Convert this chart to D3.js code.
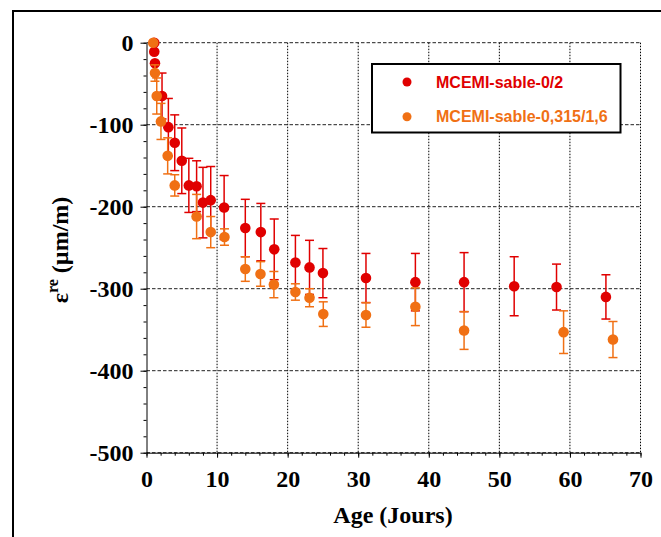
<!DOCTYPE html>
<html>
<head>
<meta charset="utf-8">
<script src="https://cdn.jsdelivr.net/npm/d3@7"></script>
<style>
  body { margin: 0; background: #fff; }
  svg { display: block; }
  .tick text { font-family: "Liberation Serif", "Times New Roman", serif; font-weight: bold; font-size: 24px; }
</style>
</head>
<body>
<div id="my_dataviz"></div>
<script>
// MCEMI-sable-0/2 (rouge)
var redDays   = [1.1, 1.1, 1.2, 2.2, 3.1, 4, 5, 6, 7.1, 8, 9.1, 11, 14, 16.2, 18.1, 21.1, 23.1, 25, 31.1, 38.1, 45, 52.1, 58.1, 65.1];
var redValues = [0, -11, -25, -65, -103, -122, -144, -174, -175, -195, -192, -201, -226, -231, -252, -268, -274, -281, -287, -292, -292, -297, -298, -310];
var redErrors = [0, 0, 0, 28, 35, 34, 40, 33, 31, 43, 41, 39, 35, 35, 37, 33, 33, 30, 30, 35, 36, 36, 28, 27];

// MCEMI-sable-0,315/1,6 (orange)
var orangeDays   = [0.95, 1.2, 1.45, 2.05, 3, 4, 7.1, 9.1, 11.05, 14, 16.15, 18.05, 21.1, 23.1, 25.05, 31.1, 38.1, 45, 59.1, 66.1];
var orangeValues = [0, -37, -65, -96, -138, -174, -212, -231, -237, -276, -282, -295, -304, -311, -331, -332, -322, -351, -353, -362];
var orangeErrors = [0, 10, 22, 22, 22, 13, 27, 19, 10, 15, 15, 16, 10, 11, 15, 15, 23, 23, 26, 22];

var seriesNames = ["MCEMI-sable-0/2", "MCEMI-sable-0,315/1,6"];
var xTicks = [0, 10, 20, 30, 40, 50, 60, 70];
var yTicks = [0, -100, -200, -300, -400, -500];

var W = 661, H = 537;
var margin = { top: 42.7, right: 20.5, bottom: 84.3, left: 146.5 },
    width = W - margin.left - margin.right,
    height = H - margin.top - margin.bottom;

var colors = ["#e00000", "#f07014"];
var serif = "'Liberation Serif', 'Times New Roman', serif";
var sans = "'Liberation Sans', Arial, sans-serif";

var svg = d3.select("#my_dataviz")
  .append("svg")
  .attr("width", W)
  .attr("height", H);

// cadre extérieur
svg.append("path")
  .attr("d", "M13," + H + "V11H" + W)
  .attr("fill", "none")
  .attr("stroke", "#000")
  .attr("stroke-width", 2);

var g = svg.append("g")
  .attr("transform", "translate(" + margin.left + "," + margin.top + ")");

var x = d3.scaleLinear().domain([0, 70]).range([0, width]);
var y = d3.scaleLinear().domain([-500, 0]).range([height, 0]);

// grille
g.append("g").selectAll("line")
  .data(xTicks.filter(function (d) { return d > 0; }))
  .enter().append("line")
  .attr("x1", function (d) { return x(d); })
  .attr("x2", function (d) { return x(d); })
  .attr("y1", 0).attr("y2", height)
  .attr("stroke", "#000")
  .attr("stroke-width", 1)
  .attr("stroke-dasharray", "1.5,1.5");

g.append("g").selectAll("line")
  .data(yTicks)
  .enter().append("line")
  .attr("x1", 0).attr("x2", width)
  .attr("y1", function (d) { return y(d); })
  .attr("y2", function (d) { return y(d); })
  .attr("stroke", "#222")
  .attr("stroke-width", 1)
  .attr("stroke-dasharray", "3.5,2");

// axe Y
var yMinor = d3.range(0, -501, -20);
g.append("g")
  .call(d3.axisLeft(y).tickValues(yMinor).tickSize(3).tickSizeOuter(0).tickFormat(""))
  .call(function (s) { s.select(".domain").remove(); });
var yAxis = g.append("g")
  .call(d3.axisLeft(y).tickValues(yTicks).tickSize(6).tickSizeOuter(0).tickPadding(7)
    .tickFormat(function (d) { return String(d); }))
  .attr("font-family", serif)
  .attr("font-size", 24)
  .attr("font-weight", "bold");
yAxis.selectAll("text")
  .attr("fill", "#000")
  .attr("dy", "0.34em");

// axe X
var xMinor = d3.range(0, 71, 2);
g.append("g")
  .attr("transform", "translate(0," + height + ")")
  .call(d3.axisBottom(x).tickValues(xMinor).tickSize(3).tickSizeOuter(0).tickFormat(""))
  .call(function (s) { s.select(".domain").remove(); });
var xAxis = g.append("g")
  .attr("transform", "translate(0," + height + ")")
  .call(d3.axisBottom(x).tickValues(xTicks).tickSize(5).tickSizeOuter(0).tickPadding(12))
  .attr("font-family", serif)
  .attr("font-size", 24)
  .attr("font-weight", "bold");
xAxis.selectAll("text").attr("fill", "#000");

// titres des axes
svg.append("text")
  .attr("x", 393)
  .attr("y", 523)
  .attr("text-anchor", "middle")
  .style("font-family", serif)
  .style("font-weight", "bold")
  .style("font-size", "24px")
  .text("Age (Jours)");

var yt = svg.append("text")
  .attr("transform", "translate(68,250) rotate(-90)")
  .attr("text-anchor", "middle")
  .style("font-family", serif)
  .style("font-weight", "bold")
  .style("font-size", "24px");
yt.append("tspan").text("ε");
yt.append("tspan").attr("dy", -10).style("font-size", "16px").text("re");
yt.append("tspan").attr("dy", 10).text(" (µm/m)");

// séries
function drawSeries(days, values, errors, color) {
  var data = days.map(function (d, i) { return { day: d, v: values[i], e: errors[i] }; });
  var withErr = data.filter(function (d) { return d.e > 0; });
  var s = g.append("g");
  s.selectAll(".bar").data(withErr).enter().append("line")
    .attr("x1", function (d) { return x(d.day); })
    .attr("x2", function (d) { return x(d.day); })
    .attr("y1", function (d) { return y(d.v + d.e); })
    .attr("y2", function (d) { return y(d.v - d.e); })
    .attr("stroke", color).attr("stroke-width", 1.5);
  [1, -1].forEach(function (sign) {
    s.selectAll(".cap").data(withErr).enter().append("line")
      .attr("x1", function (d) { return x(d.day) - 4.5; })
      .attr("x2", function (d) { return x(d.day) + 4.5; })
      .attr("y1", function (d) { return y(d.v + sign * d.e); })
      .attr("y2", function (d) { return y(d.v + sign * d.e); })
      .attr("stroke", color).attr("stroke-width", 1.5);
  });
  s.selectAll("circle").data(data).enter().append("circle")
    .attr("cx", function (d) { return x(d.day); })
    .attr("cy", function (d) { return y(d.v); })
    .attr("r", 5.3)
    .attr("fill", color);
}
drawSeries(redDays, redValues, redErrors, colors[0]);
drawSeries(orangeDays, orangeValues, orangeErrors, colors[1]);

// légende
var leg = svg.append("g");
leg.append("rect")
  .attr("x", 372).attr("y", 64)
  .attr("width", 248.5).attr("height", 68.5)
  .attr("fill", "#fff")
  .attr("stroke", "#000")
  .attr("stroke-width", 2);
seriesNames.forEach(function (name, i) {
  leg.append("circle")
    .attr("cx", 407).attr("cy", 82 + i * 34.7)
    .attr("r", 4.5)
    .attr("fill", colors[i]);
  leg.append("text")
    .attr("x", 436).attr("y", 87.7 + i * 34.7)
    .style("font-family", sans)
    .style("font-weight", "bold")
    .style("font-size", "16px")
    .attr("fill", colors[i])
    .text(name);
});
</script>
</body>
</html>
